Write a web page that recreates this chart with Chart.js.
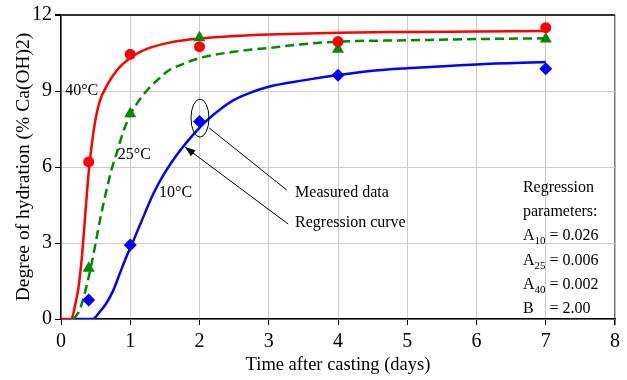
<!DOCTYPE html>
<html>
<head>
<meta charset="utf-8">
<script src="https://cdn.jsdelivr.net/npm/chart.js@4/dist/chart.umd.min.js"></script>
<style>
  html, body { margin: 0; padding: 0; background: #fff; }
  #wrap { width: 627px; height: 380px; }
</style>
</head>
<body>
<div id="wrap"><canvas id="chart" width="627" height="380"></canvas></div>
<script>
// Axis ticks
const xTicks = [0, 1, 2, 3, 4, 5, 6, 7, 8];
const yTicks = [0, 3, 6, 9, 12];

// Measured data (days after casting, % Ca(OH)2)
const measuredDays = [0.4, 1, 2, 4, 7];
const measured10 = [0.75, 2.92, 7.8, 9.62, 9.88];
const measured25 = [2.0, 8.1, 11.1, 10.65, 11.05];
const measured40 = [6.2, 10.45, 10.75, 10.95, 11.5];

// Regression curves
const curve40Days = [0, 0.15, 0.2, 0.25, 0.3, 0.35, 0.4, 0.45, 0.5, 0.56, 0.66, 0.75, 0.85, 1.0, 1.15, 1.3, 1.6, 2, 2.5, 3, 4, 5, 6, 7];
const curve40 = [0, 0, 0.5, 1.2, 2.4, 4.1, 5.8, 7.0, 7.9, 8.6, 9.2, 9.6, 9.95, 10.3, 10.55, 10.72, 10.93, 11.07, 11.17, 11.23, 11.3, 11.33, 11.35, 11.37];

const curve25Days = [0.18, 0.25, 0.3, 0.36, 0.42, 0.5, 0.57, 0.65, 0.73, 0.81, 0.9, 1.0, 1.12, 1.25, 1.4, 1.55, 1.75, 2.0, 2.5, 3, 3.5, 4, 5, 6, 7];
const curve25 = [0, 0.25, 0.6, 1.2, 1.9, 3.0, 4.0, 5.0, 5.9, 6.6, 7.4, 8.05, 8.6, 9.05, 9.45, 9.8, 10.05, 10.3, 10.55, 10.7, 10.85, 10.95, 11.0, 11.05, 11.08];

const curve10Days = [0.23, 0.46, 0.55, 0.65, 0.75, 0.85, 0.95, 1.02, 1.1, 1.2, 1.3, 1.4, 1.5, 1.6, 1.72, 1.9, 2.1, 2.3, 2.5, 2.75, 3.0, 3.5, 4.0, 4.5, 5, 6, 7];
const curve10 = [0, 0, 0.25, 0.6, 1.1, 1.8, 2.5, 2.92, 3.45, 4.1, 4.75, 5.3, 5.78, 6.2, 6.65, 7.25, 7.82, 8.28, 8.65, 8.95, 9.17, 9.42, 9.63, 9.8, 9.9, 10.05, 10.14];

// Regression parameter text
const paramLines = [
  { name: "Regression", sub: "", value: "" },
  { name: "parameters:", sub: "", value: "" },
  { name: "A", sub: "10", value: " = 0.026" },
  { name: "A", sub: "25", value: " = 0.006" },
  { name: "A", sub: "40", value: " = 0.002" },
  { name: "B", sub: "", value: "    = 2.00" }
];

const serif = "'Liberation Serif', 'Times New Roman', serif";
const RED = "#ff0000";
const GREEN = "#008a00";
const BLUE = "#0000ff";

// Turn two arrays into {x, y} points
function pairs(xs, ys) {
  return xs.map((x, i) => ({ x: x, y: ys[i] }));
}

// Plugin that draws the labels, ellipse, arrows and parameter box
const annotations = {
  id: "annotations",
  afterDatasetsDraw(chart) {
    const ctx = chart.ctx;
    const xs = chart.scales.x;
    const ys = chart.scales.y;
    const px = (v) => xs.getPixelForValue(v);
    const py = (v) => ys.getPixelForValue(v);

    ctx.save();
    ctx.fillStyle = "#000";
    ctx.textBaseline = "alphabetic";
    ctx.textAlign = "left";
    ctx.font = "16px " + serif;

    // curve labels
    ctx.fillText("40\u00B0C", px(0.06), py(8.84));
    ctx.fillText("25\u00B0C", px(0.82), py(6.32));
    ctx.fillText("10\u00B0C", px(1.415), py(4.82));

    // ellipse around measured point
    ctx.strokeStyle = "#000";
    ctx.lineWidth = 1;
    ctx.beginPath();
    ctx.ellipse(px(2.007), py(7.93), 9, 19, 0, 0, Math.PI * 2);
    ctx.stroke();

    // line to "Measured data"
    ctx.beginPath();
    ctx.moveTo(px(2.14), py(7.54));
    ctx.lineTo(px(3.26), py(5.09));
    ctx.stroke();

    // arrow to regression curve
    const x1 = px(3.28), y1 = py(3.75);
    const x2 = px(1.79), y2 = py(6.79);
    ctx.beginPath();
    ctx.moveTo(x1, y1);
    ctx.lineTo(x2, y2);
    ctx.stroke();
    const ang = Math.atan2(y2 - y1, x2 - x1);
    ctx.beginPath();
    ctx.moveTo(x2, y2);
    ctx.lineTo(x2 - 11 * Math.cos(ang - 0.35), y2 - 11 * Math.sin(ang - 0.35));
    ctx.lineTo(x2 - 11 * Math.cos(ang + 0.35), y2 - 11 * Math.sin(ang + 0.35));
    ctx.closePath();
    ctx.fill();

    ctx.fillText("Measured data", px(3.38), py(4.82));
    ctx.fillText("Regression curve", px(3.38), py(3.63));

    // regression parameters
    const left = px(6.67);
    let base = py(5.01);
    paramLines.forEach((l) => {
      ctx.font = "16px " + serif;
      ctx.fillText(l.name, left, base);
      let x = left + ctx.measureText(l.name).width;
      if (l.sub) {
        ctx.font = "11px " + serif;
        ctx.fillText(l.sub, x, base + 4);
        x += ctx.measureText(l.sub).width;
      }
      if (l.value) {
        ctx.font = "16px " + serif;
        ctx.fillText(l.value, x, base);
      }
      base += 24.2;
    });
    ctx.restore();
  }
};

const chart = new Chart(document.getElementById("chart"), {
  type: "scatter",
  data: {
    datasets: [
      {
        type: "line", label: "40 fit", data: pairs(curve40Days, curve40),
        borderColor: RED, borderWidth: 2.5, pointRadius: 0,
        cubicInterpolationMode: "monotone", order: 6
      },
      {
        type: "line", label: "25 fit", data: pairs(curve25Days, curve25),
        borderColor: GREEN, borderWidth: 2.5, borderDash: [9, 5], pointRadius: 0,
        cubicInterpolationMode: "monotone", order: 5
      },
      {
        type: "line", label: "10 fit", data: pairs(curve10Days, curve10),
        borderColor: BLUE, borderWidth: 2.5, pointRadius: 0,
        cubicInterpolationMode: "monotone", order: 4
      },
      {
        label: "10", data: pairs(measuredDays, measured10),
        pointStyle: "rectRot", pointRadius: 6.5,
        backgroundColor: BLUE, borderColor: BLUE, borderWidth: 0, order: 3
      },
      {
        label: "25", data: pairs(measuredDays, measured25),
        pointStyle: "triangle", pointRadius: 7,
        backgroundColor: GREEN, borderColor: GREEN, borderWidth: 0, order: 2
      },
      {
        label: "40", data: pairs(measuredDays, measured40),
        pointStyle: "circle", pointRadius: 5.5,
        backgroundColor: RED, borderColor: RED, borderWidth: 0, order: 1
      }
    ]
  },
  options: {
    responsive: false,
    animation: false,
    devicePixelRatio: 1,
    layout: { padding: { top: 15, right: 12, left: 0, bottom: 0 } },
    plugins: { legend: { display: false }, tooltip: { enabled: false } },
    scales: {
      x: {
        type: "linear", min: 0, max: 8,
        afterBuildTicks: (s) => { s.ticks = xTicks.map((v) => ({ value: v })); },
        afterFit: (s) => { s.height = 61; },
        ticks: { color: "#000", font: { family: serif, size: 20 }, padding: 5 },
        grid: {
          color: (c) => (c.tick && c.tick.value === 8 ? "#777" : "#cccccc"),
          lineWidth: (c) => (c.tick && c.tick.value === 8 ? 1.5 : 1),
          tickColor: "#000", tickLength: 6
        },
        border: { color: "#000", width: 1.5 },
        title: {
          display: true, text: "Time after casting (days)", color: "#000",
          font: { family: serif, size: 18.5 }, padding: { top: 0, bottom: 4 }
        }
      },
      y: {
        type: "linear", min: 0, max: 12,
        afterBuildTicks: (s) => { s.ticks = yTicks.map((v) => ({ value: v })); },
        afterFit: (s) => { s.width = 61; },
        ticks: { color: "#000", font: { family: serif, size: 20 }, padding: 3 },
        grid: {
          color: (c) => (c.tick && c.tick.value === 12 ? "#333" : "#cccccc"),
          lineWidth: (c) => (c.tick && c.tick.value === 12 ? 2 : 1),
          tickColor: "#000", tickLength: 6
        },
        border: { color: "#000", width: 1.5 },
        title: {
          display: true, text: "Degree of hydration (% Ca(OH)2)", color: "#000",
          font: { family: serif, size: 19.5 }, padding: { top: 12, bottom: 0 }
        }
      }
    }
  },
  plugins: [annotations]
});
</script>
</body>
</html>
